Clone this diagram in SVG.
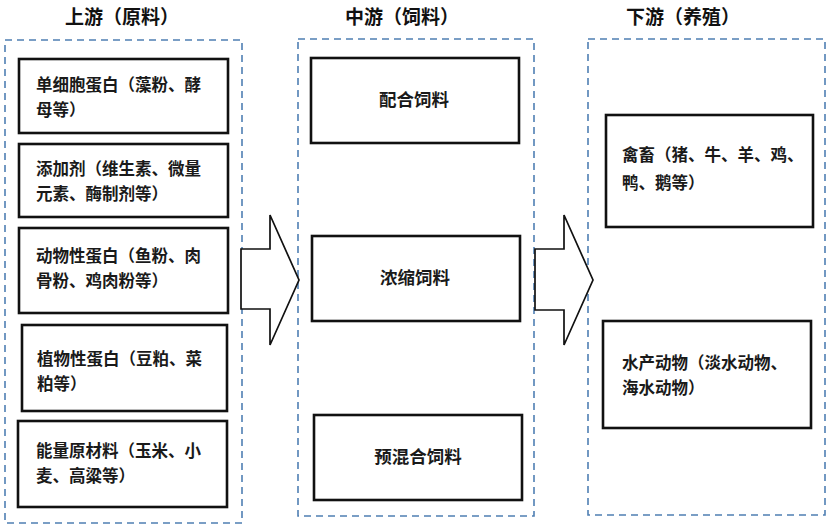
<svg xmlns="http://www.w3.org/2000/svg" width="831" height="530" viewBox="0 0 831 530">
<style>
.bg{fill:#ffffff}
.container{fill:none;stroke:#4f7fb3;stroke-width:1.6;stroke-dasharray:7 5}
.box{fill:#ffffff;stroke:#111111;stroke-width:2.6}
.arrow{fill:#ffffff;stroke:#111111;stroke-width:1.7;stroke-linejoin:miter}
.t{font-family:"Noto Sans CJK SC","Noto Sans CJK JP",sans-serif;font-size:16.5px;font-weight:700;fill:#1a1a1a}
.m{font-size:17.5px}
.title{font-family:"Noto Sans CJK SC","Noto Sans CJK JP",sans-serif;font-size:19px;font-weight:700;fill:#111111;text-anchor:middle}
.c{text-anchor:middle}
</style>
<rect class="bg" x="0" y="0" width="831" height="530"/>

<g id="titles">
<text class="title" x="122" y="24">上游（原料）</text>
<text class="title" x="402" y="24">中游（饲料）</text>
<text class="title" x="683" y="24">下游（养殖）</text>
</g>

<g id="containers">
<rect id="upstream" class="container" x="5" y="40" width="237" height="483"/>
<rect id="midstream" class="container" x="298" y="39" width="236" height="477"/>
<rect id="downstream" class="container" x="588" y="39" width="237" height="476"/>
</g>

<g id="connectors">
<polygon class="arrow" points="241,249 270,249 270,215 299,280 270,345 270,309 241,309"/>
<polygon class="arrow" points="535,249 564,249 564,215 593,280 564,345 564,310 535,310"/>
</g>

<g id="node-u1">
<rect class="box" x="19" y="59" width="209" height="74"/>
<text class="t" x="36" y="91">单细胞蛋白（藻粉、酵</text>
<text class="t" x="36" y="115.5">母等）</text>
</g>
<g id="node-u2">
<rect class="box" x="19" y="144" width="209" height="73"/>
<text class="t" x="36" y="175">添加剂（维生素、微量</text>
<text class="t" x="36" y="199.5">元素、酶制剂等）</text>
</g>
<g id="node-u3">
<rect class="box" x="19" y="228" width="209" height="85"/>
<text class="t" x="36" y="262">动物性蛋白（鱼粉、肉</text>
<text class="t" x="36" y="286.5">骨粉、鸡肉粉等）</text>
</g>
<g id="node-u4">
<rect class="box" x="22" y="325" width="205" height="86"/>
<text class="t" x="37" y="365">植物性蛋白（豆粕、菜</text>
<text class="t" x="37" y="389.5">粕等）</text>
</g>
<g id="node-u5">
<rect class="box" x="18" y="421" width="209" height="86"/>
<text class="t" x="36" y="457">能量原材料（玉米、小</text>
<text class="t" x="36" y="481.5">麦、高粱等）</text>
</g>

<g id="node-m1">
<rect class="box" x="311" y="58" width="208" height="85"/>
<text class="t m c" x="414" y="106">配合饲料</text>
</g>
<g id="node-m2">
<rect class="box" x="312" y="236" width="208" height="85"/>
<text class="t m c" x="415" y="284">浓缩饲料</text>
</g>
<g id="node-m3">
<rect class="box" x="314" y="415" width="208" height="85"/>
<text class="t m c" x="418" y="463">预混合饲料</text>
</g>

<g id="node-d1">
<rect class="box" x="606" y="115" width="207" height="112"/>
<text class="t" x="622" y="161">禽畜（猪、牛、羊、鸡、</text>
<text class="t" x="622" y="189">鸭、鹅等）</text>
</g>
<g id="node-d2">
<rect class="box" x="603" y="321" width="208" height="107"/>
<text class="t" x="622" y="369">水产动物（淡水动物、</text>
<text class="t" x="622" y="394">海水动物）</text>
</g>
</svg>
